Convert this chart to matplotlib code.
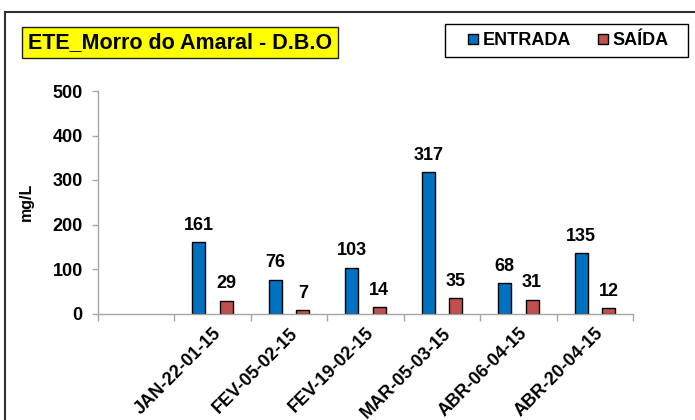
import numpy as np
import matplotlib
matplotlib.use("Agg")
import matplotlib.pyplot as plt
from matplotlib.patches import Rectangle
from matplotlib.lines import Line2D

plt.rcParams['font.family'] = ['Liberation Sans', 'DejaVu Sans']
plt.rcParams['font.weight'] = 'bold'

categories = ["", "JAN-22-01-15", "FEV-05-02-15", "FEV-19-02-15",
              "MAR-05-03-15", "ABR-06-04-15", "ABR-20-04-15"]
entrada = [np.nan, 161, 76, 103, 317, 68, 135]
saida = [np.nan, 29, 7, 14, 35, 31, 12]
title = "ETE_Morro do Amaral - D.B.O"
ylabel = "mg/L"
yticks = [0, 100, 200, 300, 400, 500]

W, H = 695, 420
fig = plt.figure(figsize=(W / 100, H / 100), dpi=100)
ax = fig.add_axes([98 / W, 1 - 313.5 / H, (633 - 98) / W, (313.5 - 91) / H])

x = np.arange(len(categories))
bw = 0.17
off = 0.18
c_in = "#0070C0"
c_out = "#C0504D"
b1 = ax.bar(x - off, entrada, bw, color=c_in, edgecolor="black", linewidth=1, label="ENTRADA")
b2 = ax.bar(x + off, saida, bw, color=c_out, edgecolor="black", linewidth=1, label="SAÍDA")

fs = 13
for bars, vals in ((b1, entrada), (b2, saida)):
    for rect, v in zip(bars, vals):
        if np.isnan(v):
            continue
        ax.annotate(f"{int(v)}", (rect.get_x() + rect.get_width() / 2, v),
                    xytext=(0, 6), textcoords="offset points",
                    ha="center", va="bottom", fontsize=fs, fontweight="bold")

ax.set_xlim(-0.5, len(categories) - 0.5)
ax.set_ylim(0, 500)
ax.set_yticks(yticks)
ax.set_yticklabels([str(t) for t in yticks], fontsize=fs, fontweight="bold")
ax.set_xticks(x)
ax.set_xticklabels(categories, rotation=45, ha="right", rotation_mode="anchor",
                   fontsize=fs, fontweight="bold")
ax.set_xticks(np.arange(-0.5, len(categories)), minor=True)
ax.tick_params(axis="x", which="major", length=0, pad=8)
ax.tick_params(axis="x", which="minor", length=5, color="#A6A6A6", width=1)
ax.tick_params(axis="y", length=4, color="#A6A6A6", width=1, pad=7)
for s in ("top", "right"):
    ax.spines[s].set_visible(False)
for s in ("left", "bottom"):
    ax.spines[s].set_color("#A6A6A6")
    ax.spines[s].set_linewidth(1)
ax.set_ylabel(ylabel, fontsize=11.5, fontweight="bold")
ax.yaxis.set_label_coords(-0.12, 0.5)

# outer chart border (left and top visible)
fig.add_artist(Line2D([5 / W, 5 / W], [0, 1 - 12 / H], transform=fig.transFigure,
                      color="#303030", linewidth=1.5))
fig.add_artist(Line2D([5 / W, 1], [1 - 12 / H, 1 - 12 / H], transform=fig.transFigure,
                      color="#303030", linewidth=1.5))

# title box
fig.add_artist(Rectangle((22 / W, 1 - 58 / H), (338 - 22) / W, 31 / H,
                         transform=fig.transFigure, facecolor="#FFFF00",
                         edgecolor="#202020", linewidth=1))
fig.text(180 / W, 1 - 43 / H, title, ha="center", va="center", fontsize=15.5,
         fontweight="bold")

# legend
fig.add_artist(Rectangle((445 / W, 1 - 57 / H), (688 - 445) / W, 33 / H,
                         transform=fig.transFigure, facecolor="white",
                         edgecolor="black", linewidth=1))
h1 = Line2D([], [], linestyle="none", marker="s", markersize=7.5,
            markerfacecolor=c_in, markeredgecolor="black", markeredgewidth=1)
h2 = Line2D([], [], linestyle="none", marker="s", markersize=7.5,
            markerfacecolor=c_out, markeredgecolor="black", markeredgewidth=1)
leg = fig.legend(handles=[h1, h2], labels=["ENTRADA", "SAÍDA"], loc="center",
                 bbox_to_anchor=(568 / W, 1 - 40.5 / H),
                 ncol=2, frameon=False, fontsize=fs,
                 handlelength=0.6, handletextpad=0.25, columnspacing=1.45,
                 borderpad=0.2, prop={"weight": "bold", "size": fs})

fig.savefig("out.png", dpi=100)
